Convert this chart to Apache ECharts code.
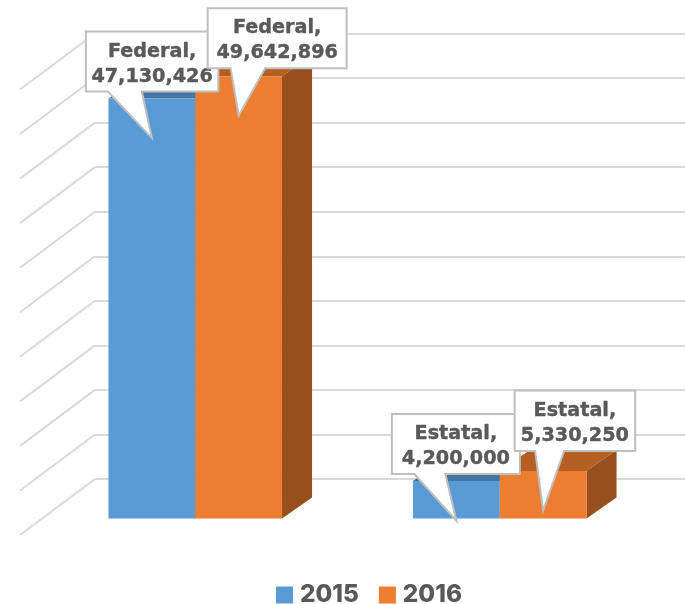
<!DOCTYPE html>
<html>
<head>
<meta charset="utf-8">
<title>Federal / Estatal</title>
<script src="https://cdn.jsdelivr.net/npm/echarts@6/dist/echarts.min.js"></script>
<style>
	html, body { margin: 0; padding: 0; background: #fff; }
	#chart { width: 685px; height: 604px; }
</style>
</head>
<body>
<div id="chart"></div>
<script type="text/javascript">
	var categories = ['Federal', 'Estatal'];
	var years = ['2015', '2016'];
	var values2015 = [47130426, 4200000];
	var values2016 = [49642896, 5330250];
	var tickValues = [0, 5000000, 10000000, 15000000, 20000000, 25000000, 30000000, 35000000, 40000000, 45000000, 50000000];

	var palette = {
		'2015': { front: '#5b9bd5', top: '#4475a4', side: '#3d6a94' },
		'2016': { front: '#ed7d31', top: '#b55f23', side: '#964f1d' }
	};

	// depth of the fake 3d: front face sits below/left of the back wall
	var frontDx = -52, frontDy = 39.5, depthDx = 30, depthDy = -21;
	var wallDx = -75, wallDy = 56;

	function toPairs(values) {
		return values.map(function (v, i) { return [categories[i], v]; });
	}

	function barRect(api, side) {
		var p = api.coord([api.value(0), api.value(1)]);
		var base = api.coord([api.value(0), 0]);
		var w = api.size([1, 0])[0] * 0.285;
		var left = p[0] + frontDx + (side === 0 ? -w : 0);
		return { left: left, right: left + w, top: p[1] + frontDy, bottom: base[1] + frontDy };
	}

	function renderWall(params, api) {
		var p = api.coord([0, api.value(1)]);
		var x = params.coordSys.x;
		return {
			type: 'line',
			shape: { x1: x + wallDx, y1: p[1] + wallDy, x2: x, y2: p[1] },
			style: { stroke: '#d9d9d9', lineWidth: 2, fill: null }
		};
	}

	function renderBar(side, year) {
		var c = palette[year];
		return function (params, api) {
			var r = barRect(api, side);
			return {
				type: 'group',
				children: [
					{ type: 'polygon', shape: { points: [[r.left, r.top], [r.left + depthDx, r.top + depthDy], [r.right + depthDx, r.top + depthDy], [r.right, r.top]] }, style: { fill: c.top } },
					{ type: 'polygon', shape: { points: [[r.right, r.top], [r.right + depthDx, r.top + depthDy], [r.right + depthDx, r.bottom + depthDy], [r.right, r.bottom]] }, style: { fill: c.side } },
					{ type: 'rect', shape: { x: r.left, y: r.top, width: r.right - r.left, height: r.bottom - r.top }, style: { fill: c.front } }
				]
			};
		};
	}

	// callout box relative to the pointer tip: box left, right, top, bottom, pointer base a, c
	var calloutLayout = {
		'2015': [
			{ l: -66, r: 66.5, t: -106.5, b: -46.5, a: -44, c: -10 },
			{ l: -64.5, r: 63.5, t: -106.5, b: -46.5, a: -42, c: -11 }
		],
		'2016': [
			{ l: -31, r: 108, t: -107.5, b: -47.5, a: -8, c: 26.5 },
			{ l: -28.5, r: 92, t: -120, b: -59.5, a: -8, c: 21 }
		]
	};

	function renderCallout(side, year) {
		return function (params, api) {
			var r = barRect(api, side);
			var tip = [(r.left + r.right) / 2, r.top + frontDy];
			var o = calloutLayout[year][params.dataIndex];
			var text = categories[params.dataIndex] + ',\n' + api.value(1).toLocaleString('en-US');
			return {
				type: 'group',
				children: [
					{
						type: 'polygon',
						shape: { points: [
							[tip[0] + o.l, tip[1] + o.t], [tip[0] + o.r, tip[1] + o.t], [tip[0] + o.r, tip[1] + o.b],
							[tip[0] + o.c, tip[1] + o.b], tip, [tip[0] + o.a, tip[1] + o.b], [tip[0] + o.l, tip[1] + o.b]
						] },
						style: { fill: '#fff', stroke: '#bfbfbf', lineWidth: 2 }
					},
					{
						type: 'text',
						style: {
							x: tip[0] + (o.l + o.r) / 2, y: tip[1] + (o.t + o.b) / 2 + 2.5,
							text: text, align: 'center', verticalAlign: 'middle',
							font: '700 19.2px "DejaVu Sans", sans-serif', lineHeight: 25, fill: '#595959',
							stroke: '#595959', lineWidth: 0.4
						}
					}
				]
			};
		};
	}

	function customSeries(name, render, data, z, color) {
		return { name: name, type: 'custom', renderItem: render, data: data, z: z, animation: false, silent: true, itemStyle: color ? { color: color } : undefined };
	}

	var myChart = echarts.init(document.getElementById('chart'), null, { renderer: 'canvas' });
	var option = {
		backgroundColor: '#fff',
		animation: false,
		legend: {
			data: years,
			left: 271,
			top: 578,
			icon: 'rect',
			itemWidth: 17,
			itemHeight: 17,
			itemGap: 20,
			textStyle: { fontFamily: 'Inter', fontWeight: 800, fontSize: 24.3, color: '#595959', padding: [0, 0, 0, 2] }
		},
		grid: { left: 95, width: 609, top: 33.5, height: 445.5, containLabel: false, outerBoundsMode: 'none' },
		xAxis: {
			type: 'category',
			data: categories,
			axisLine: { show: false },
			axisTick: { show: false },
			axisLabel: { show: false }
		},
		yAxis: {
			type: 'value',
			min: 0,
			max: 50000000,
			interval: 5000000,
			axisLine: { show: false },
			axisTick: { show: false },
			axisLabel: { show: false },
			splitLine: { show: true, lineStyle: { color: '#d9d9d9', width: 2 } }
		},
		series: [
			customSeries('wall', renderWall, tickValues.map(function (v) { return [categories[0], v]; }), 1),
			customSeries(years[0], renderBar(0, years[0]), toPairs(values2015), 2, palette['2015'].front),
			customSeries(years[1], renderBar(1, years[1]), toPairs(values2016), 3, palette['2016'].front),
			customSeries('callout2015', renderCallout(0, years[0]), toPairs(values2015), 4),
			customSeries('callout2016', renderCallout(1, years[1]), toPairs(values2016), 5)
		]
	};
	myChart.setOption(option);
</script>
</body>
</html>
